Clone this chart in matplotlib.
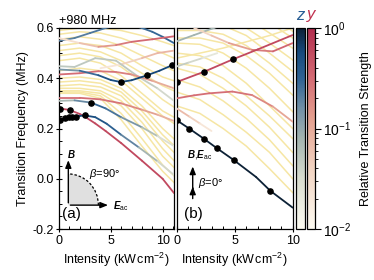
import numpy as np
import matplotlib
matplotlib.use('Agg')
import matplotlib.pyplot as plt
from matplotlib.collections import LineCollection
from matplotlib.colors import LinearSegmentedColormap, LogNorm
from matplotlib.patches import Wedge, Arc
from matplotlib.transforms import Affine2D
from matplotlib.ticker import MultipleLocator
import matplotlib.cm as cm

plt.rcParams['font.family'] = ['Liberation Sans', 'DejaVu Sans']
plt.rcParams['mathtext.fontset'] = 'custom'
plt.rcParams['mathtext.rm'] = 'Liberation Sans'
plt.rcParams['mathtext.it'] = 'Liberation Sans:italic'
plt.rcParams['mathtext.bf'] = 'Liberation Sans:bold:italic'
plt.rcParams['font.size'] = 9

# ---- painel (a): beta = 90 graus ----
# curvas coloridas: x, y (MHz), forca relativa
a_azul1_x = [0, 1.5, 3, 4.5, 5.5, 7, 8, 9, 10, 11.1]
a_azul1_y = [0.549, 0.56, 0.58, 0.6, 0.61, 0.612, 0.6, 0.585, 0.565, 0.54]
a_azul1_s = [0.2, 0.2, 0.22, 0.25, 0.25, 0.25, 0.25, 0.3, 0.3, 0.3]

a_verm2_x = [0, 2, 3.8, 5.5, 7, 9, 11.1]
a_verm2_y = [0.56, 0.54, 0.525, 0.532, 0.545, 0.555, 0.567]
a_verm2_s = [0.02, 0.04, 0.1, 0.2, 0.3, 0.35, 0.4]

a_salm_x = [4, 6, 8, 9.5, 11.1]
a_salm_y = [0.44, 0.455, 0.48, 0.5, 0.51]
a_salm_s = [0.015, 0.03, 0.06, 0.08, 0.08]

a_cinza_x = [0, 1.5, 3.5, 5.5, 7.7, 9.5, 11.1]
a_cinza_y = [0.448, 0.445, 0.48, 0.47, 0.405, 0.36, 0.31]
a_cinza_s = [0.05, 0.05, 0.05, 0.05, 0.05, 0.04, 0.03]

a_verm5_x = [0, 2, 3.8, 5.5, 7, 9, 11.1]
a_verm5_y = [0.415, 0.42, 0.428, 0.425, 0.415, 0.39, 0.36]
a_verm5_s = [0.3, 0.3, 0.3, 0.25, 0.2, 0.12, 0.08]

a_azulC_x = [0, 2, 3.8, 5, 5.95, 7, 8.45, 9.7, 11.1]
a_azulC_y = [0.435, 0.43, 0.412, 0.393, 0.385, 0.392, 0.411, 0.43, 0.455]
a_azulC_s = [0.1, 0.2, 0.4, 0.5, 0.6, 0.6, 0.6, 0.6, 0.6]

a_verm7_x = [0, 2, 4, 6, 8, 9.5, 11.1]
a_verm7_y = [0.322, 0.322, 0.316, 0.3, 0.275, 0.255, 0.23]
a_verm7_s = [0.3, 0.3, 0.3, 0.25, 0.15, 0.1, 0.08]

a_azulB_x = [0, 1.5, 3.1, 4.5, 6, 8, 9.5, 11.1]
a_azulB_y = [0.31, 0.312, 0.303, 0.28, 0.245, 0.205, 0.17, 0.13]
a_azulB_s = [0.05, 0.1, 0.3, 0.3, 0.2, 0.1, 0.04, 0.02]

a_vermA_x = [0, 1, 2, 2.5, 3.5, 4.5, 6, 8, 10, 11.1]
a_vermA_y = [0.28, 0.274, 0.258, 0.247, 0.22, 0.19, 0.142, 0.072, 0.0, -0.057]
a_vermA_s = [0.6, 0.6, 0.6, 0.6, 0.6, 0.6, 0.6, 0.6, 0.6, 0.6]

a_azulA_x = [0, 0.6, 1.3, 2.0, 2.5, 3.5, 4.6, 6, 7.7, 9.5, 11.1]
a_azulA_y = [0.232, 0.242, 0.245, 0.25, 0.252, 0.245, 0.219, 0.175, 0.125, 0.07, 0.015]
a_azulA_s = [0.6, 0.6, 0.6, 0.6, 0.6, 0.5, 0.4, 0.3, 0.12, 0.05, 0.025]

a_pontos_x = [0.05, 1.05, 0.05, 0.6, 0.95, 1.3, 1.6, 2.5, 3.1, 5.95, 8.45, 10.9]
a_pontos_y = [0.277, 0.274, 0.232, 0.242, 0.244, 0.245, 0.246, 0.252, 0.303, 0.385, 0.411, 0.452]

# linhas fracas (amarelas)
a_amar_x = [0, 2, 4, 6, 8, 10, 11.1]
a_amar_y = [
    [0.59, 0.6, 0.6, 0.59, 0.57, 0.545, 0.53],
    [0.575, 0.585, 0.58, 0.56, 0.53, 0.5, 0.48],
    [0.555, 0.565, 0.555, 0.53, 0.49, 0.45, 0.43],
    [0.53, 0.54, 0.53, 0.5, 0.45, 0.405, 0.39],
    [0.51, 0.52, 0.505, 0.47, 0.42, 0.37, 0.35],
    [0.49, 0.5, 0.485, 0.445, 0.385, 0.315, 0.285],
    [0.47, 0.48, 0.46, 0.41, 0.34, 0.27, 0.245],
    [0.43, 0.44, 0.43, 0.39, 0.32, 0.25, 0.22],
    [0.4, 0.405, 0.395, 0.36, 0.29, 0.2, 0.159],
    [0.385, 0.39, 0.38, 0.345, 0.27, 0.175, 0.132],
    [0.37, 0.375, 0.365, 0.33, 0.25, 0.15, 0.105],
    [0.36, 0.36, 0.35, 0.31, 0.225, 0.12, 0.072],
    [0.35, 0.35, 0.34, 0.29, 0.2, 0.09, 0.045],
    [0.345, 0.345, 0.33, 0.26, 0.16, 0.055, 0.012],
    [0.34, 0.34, 0.32, 0.235, 0.13, 0.03, -0.015],
]

# ---- painel (b): beta = 0 graus ----
b_cinzaazul_x = [0, 1.5, 3.2, 4.5]
b_cinzaazul_y = [0.547, 0.572, 0.6, 0.62]
b_cinzaazul_s = [0.08, 0.08, 0.08, 0.08]

b_verm2_x = [1.5, 3, 4.5, 6.5, 8.3, 10]
b_verm2_y = [0.6, 0.57, 0.54, 0.513, 0.507, 0.54]
b_verm2_s = [0.03, 0.05, 0.08, 0.2, 0.3, 0.4]

b_cinza_x = [0, 1, 2.2, 3.5]
b_cinza_y = [0.447, 0.462, 0.48, 0.5]
b_cinza_s = [0.05, 0.04, 0.03, 0.015]

b_vermP_x = [0, 2.37, 4.88, 7, 10]
b_vermP_y = [0.385, 0.426, 0.476, 0.515, 0.572]
b_vermP_s = [0.6, 0.6, 0.6, 0.6, 0.6]

b_vermM_x = [0, 1.5, 2.8, 4.8, 6.5, 8.3, 10]
b_vermM_y = [0.32, 0.332, 0.34, 0.347, 0.333, 0.287, 0.227]
b_vermM_s = [0.3, 0.3, 0.3, 0.3, 0.25, 0.15, 0.08]

b_salm_x = [0, 1.1, 2, 3]
b_salm_y = [0.28, 0.247, 0.22, 0.19]
b_salm_s = [0.08, 0.06, 0.03, 0.015]

b_azulP_x = [0, 1.1, 2.35, 3.45, 4.9, 6.84, 8.07, 10]
b_azulP_y = [0.233, 0.199, 0.159, 0.122, 0.075, 0.007, -0.048, -0.115]
b_azulP_s = [1, 1, 1, 1, 1, 1, 1, 1]

b_pontos_x = [0.0, 1.1, 2.35, 3.45, 4.9, 8.07, 0.0, 2.37, 4.88]
b_pontos_y = [0.233, 0.198, 0.159, 0.122, 0.075, -0.048, 0.386, 0.425, 0.476]

b_amar_x = [0, 2, 4, 6, 8, 10]
b_amar_y = [
    [0.29, 0.26, 0.2, 0.13, 0.04, -0.055],
    [0.345, 0.315, 0.255, 0.185, 0.105, 0.0],
    [0.395, 0.365, 0.31, 0.24, 0.155, 0.052],
    [0.44, 0.415, 0.36, 0.29, 0.205, 0.105],
    [0.46, 0.445, 0.4, 0.33, 0.25, 0.16],
    [0.5, 0.49, 0.45, 0.38, 0.29, 0.2],
    [0.54, 0.535, 0.5, 0.44, 0.36, 0.267],
    [0.56, 0.56, 0.54, 0.49, 0.42, 0.333],
    [0.59, 0.59, 0.575, 0.53, 0.46, 0.38],
    [0.62, 0.62, 0.61, 0.57, 0.5, 0.427],
    [0.65, 0.655, 0.64, 0.6, 0.54, 0.473],
    [0.68, 0.69, 0.675, 0.64, 0.58, 0.52],
    [0.72, 0.72, 0.7, 0.67, 0.62, 0.56],
    [0.75, 0.75, 0.74, 0.7, 0.65, 0.587],
    [0.48, 0.5, 0.52, 0.545, 0.57, 0.6],
]

# ---- cores ----
cmap_z = LinearSegmentedColormap.from_list('z', [
    (0.0, '#fdfbf2'), (0.25, '#d8dccf'), (0.45, '#a3b4b0'), (0.6, '#7190a6'),
    (0.75, '#2f6394'), (0.88, '#164a7d'), (1.0, '#0c2136')])
cmap_y = LinearSegmentedColormap.from_list('y', [
    (0.0, '#fdfbf2'), (0.3, '#f2d4c2'), (0.55, '#e4a08f'), (0.75, '#d46c74'),
    (1.0, '#b22d4e')])
norma = LogNorm(0.01, 1)
amarelo = '#f6e6a4'


def trazar(ax, x, y, s, cmap, lw=1.3, z=3):
    pts = np.column_stack([x, y])
    segs = np.stack([pts[:-1], pts[1:]], axis=1)
    s = np.asarray(s, float)
    cores = cmap(norma(np.sqrt(s[:-1] * s[1:])))
    lc = LineCollection(segs, colors=cores, linewidths=lw, zorder=z,
                        capstyle='round', joinstyle='round')
    ax.add_collection(lc)


fig = plt.figure(figsize=(3.74, 2.80), dpi=100)
ax_a = fig.add_axes([59 / 374, 1 - 229 / 280, 115 / 374, 201 / 280])
ax_b = fig.add_axes([176.7 / 374, 1 - 229 / 280, 116 / 374, 201 / 280])
cax_z = fig.add_axes([296 / 374, 1 - 229 / 280, 8.5 / 374, 201 / 280])
cax_y = fig.add_axes([306.5 / 374, 1 - 229 / 280, 8.5 / 374, 201 / 280])

for linha in a_amar_y:
    ax_a.plot(a_amar_x, linha, color=amarelo, lw=1.1, zorder=1)
for linha in b_amar_y:
    ax_b.plot(b_amar_x, linha, color=amarelo, lw=1.1, zorder=1)

trazar(ax_a, a_azul1_x, a_azul1_y, a_azul1_s, cmap_z)
trazar(ax_a, a_verm2_x, a_verm2_y, a_verm2_s, cmap_y)
trazar(ax_a, a_salm_x, a_salm_y, a_salm_s, cmap_y)
trazar(ax_a, a_cinza_x, a_cinza_y, a_cinza_s, cmap_z)
trazar(ax_a, a_verm5_x, a_verm5_y, a_verm5_s, cmap_y)
trazar(ax_a, a_azulC_x, a_azulC_y, a_azulC_s, cmap_z)
trazar(ax_a, a_verm7_x, a_verm7_y, a_verm7_s, cmap_y)
trazar(ax_a, a_azulB_x, a_azulB_y, a_azulB_s, cmap_z)
trazar(ax_a, a_vermA_x, a_vermA_y, a_vermA_s, cmap_y)
trazar(ax_a, a_azulA_x, a_azulA_y, a_azulA_s, cmap_z)
ax_a.scatter(a_pontos_x, a_pontos_y, s=14, color='black', zorder=5)

trazar(ax_b, b_cinzaazul_x, b_cinzaazul_y, b_cinzaazul_s, cmap_z)
trazar(ax_b, b_verm2_x, b_verm2_y, b_verm2_s, cmap_y)
trazar(ax_b, b_cinza_x, b_cinza_y, b_cinza_s, cmap_z)
trazar(ax_b, b_vermP_x, b_vermP_y, b_vermP_s, cmap_y)
trazar(ax_b, b_vermM_x, b_vermM_y, b_vermM_s, cmap_y)
trazar(ax_b, b_salm_x, b_salm_y, b_salm_s, cmap_y)
trazar(ax_b, b_azulP_x, b_azulP_y, b_azulP_s, cmap_z)
ax_b.scatter(b_pontos_x, b_pontos_y, s=14, color='black', zorder=5)

for ax, xmax in [(ax_a, 11.1), (ax_b, 10)]:
    ax.set_xlim(0, xmax)
    ax.set_ylim(-0.2, 0.6)
    ax.xaxis.set_major_locator(MultipleLocator(5))
    ax.xaxis.set_minor_locator(MultipleLocator(1))
    ax.yaxis.set_major_locator(MultipleLocator(0.2))
    ax.yaxis.set_minor_locator(MultipleLocator(0.05))
    ax.tick_params(which='major', direction='inout', length=5, width=0.8, pad=1.5)
    ax.tick_params(which='minor', direction='in', length=2.5, width=0.7)
    for sp in ax.spines.values():
        sp.set_linewidth(0.9)
    ax.set_xlabel('Intensity (kW$\\,$cm$^{-2}$)', labelpad=3)

ax_a.yaxis.set_major_formatter(matplotlib.ticker.FormatStrFormatter('%.1f'))
ax_a.set_ylabel('Transition Frequency (MHz)', labelpad=2)
ax_b.tick_params(axis='y', which='both', left=False, labelleft=False)
ax_a.text(0.0, 1.005, '+980 MHz', transform=ax_a.transAxes, fontsize=9,
          ha='left', va='bottom')

# desenho (a)
ax_a.add_patch(Wedge((0, 0), 1, 0, 90, facecolor='#e0e0e0', edgecolor='none',
                     transform=Affine2D().scale(2.9, 0.124).translate(0.9, -0.105) + ax_a.transData,
                     zorder=2))
ax_a.add_patch(Arc((0.9, -0.105), 5.8, 0.248, theta1=0, theta2=90, ls=(0, (2, 1.5)),
                   lw=0.9, color='black', zorder=3))
ax_a.annotate('', xy=(0.9, 0.085), xytext=(0.9, -0.107),
              arrowprops=dict(arrowstyle='-|>,head_length=0.5,head_width=0.2', color='black', lw=1.0))
ax_a.annotate('', xy=(5.0, -0.105), xytext=(0.83, -0.105),
              arrowprops=dict(arrowstyle='-|>,head_length=0.5,head_width=0.2', color='black', lw=1.0))
ax_a.text(0.8, 0.1, '$\\mathbf{B}$', fontsize=7, ha='left', va='center')
ax_a.text(5.2, -0.108, '$\\mathbf{E}_{\\mathrm{ac}}$', fontsize=7, ha='left', va='center')
ax_a.text(2.9, 0.02, '$\\beta$=90°', fontsize=8, ha='left', va='center')
ax_a.text(0.3, -0.14, '(a)', fontsize=11, ha='left', va='center')

# desenho (b)
ax_b.annotate('', xy=(1.38, 0.06), xytext=(1.38, -0.09),
              arrowprops=dict(arrowstyle='-|>,head_length=0.5,head_width=0.2', color='black', lw=1.0))
ax_b.annotate('', xy=(1.38, -0.02), xytext=(1.38, -0.05),
              arrowprops=dict(arrowstyle='-|>,head_length=0.5,head_width=0.2', color='black', lw=1.0))
ax_b.text(0.85, 0.092, '$\\mathbf{B}$,$\\mathbf{E}_{\\mathrm{ac}}$', fontsize=7, ha='left', va='center')
ax_b.text(1.85, -0.015, '$\\beta$=0°', fontsize=8, ha='left', va='center')
ax_b.text(0.6, -0.14, '(b)', fontsize=11, ha='left', va='center')

# barras de cor
for cax, cmap in [(cax_z, cmap_z), (cax_y, cmap_y)]:
    sm = cm.ScalarMappable(norm=norma, cmap=cmap)
    cb = fig.colorbar(sm, cax=cax)
    cb.outline.set_linewidth(0.9)
cax_z.tick_params(which='both', right=False, labelright=False)
cax_y.tick_params(which='major', length=4, width=0.8, labelsize=10, pad=2)
cax_y.tick_params(which='minor', length=2, width=0.6)
cax_y.set_ylabel('Relative Transition Strength', fontsize=9, labelpad=6)
fig.text(300 / 374, 1 - 15 / 280, 'z', color='#2a5f96', fontsize=12, style='italic',
         ha='center', va='center')
fig.text(311 / 374, 1 - 15 / 280, 'y', color='#c0304f', fontsize=12, style='italic',
         ha='center', va='center')

fig.savefig('out.png', dpi=100)
